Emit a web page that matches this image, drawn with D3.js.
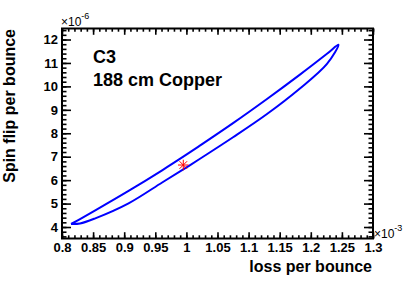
<!DOCTYPE html>
<html>
<head>
<meta charset="utf-8">
<script src="https://cdn.jsdelivr.net/npm/d3@7"></script>
<style>
  body { margin: 0; background: #fff; }
  svg  { display: block; }
  text { font-family: "Liberation Sans", Arial, Helvetica, sans-serif; }
</style>
</head>
<body>
<svg id="chart" width="415" height="282"></svg>
<script>
// Loop: x in 1e-3, y in 1e-6.
const upperX = [ 0.8145, 0.829, 0.8535, 0.907, 0.961, 0.995, 1.020, 1.075, 1.129, 1.182, 1.226, 1.2445 ];
const upperY = [ 4.13,   4.34,  4.71,   5.54,  6.42,  7.00,  7.44,  8.43,  9.45,  10.49, 11.39, 11.78  ];
const lowerX = [ 0.829, 0.8535, 0.907, 0.961, 0.995, 1.020, 1.075, 1.129, 1.182, 1.226 ];
const lowerY = [ 4.15,  4.37,   5.01,  5.90,  6.46,  6.88,  7.83,  8.81,  9.90,  10.96 ];

// The marked point.
const markX = [ 0.995 ];
const markY = [ 6.645 ];

// Axis ticks.
const xTicks      = [ 0.8, 0.85, 0.9, 0.95, 1, 1.05, 1.1, 1.15, 1.2, 1.25, 1.3 ];
const xTickLabels = [ '0.8', '0.85', '0.9', '0.95', '1', '1.05', '1.1', '1.15', '1.2', '1.25', '1.3' ];
const yTicks      = [ 4, 5, 6, 7, 8, 9, 10, 11, 12 ];
const yTickLabels = [ '4', '5', '6', '7', '8', '9', '10', '11', '12' ];

const svg = d3.select( '#chart' );
svg.append( 'rect' ).attr( 'width', 415 ).attr( 'height', 282 ).attr( 'fill', '#fff' );

const x = d3.scaleLinear( ).domain( [ 0.8, 1.3 ] ).range( [ 62, 373 ] );
const y = d3.scaleLinear( ).domain( [ 3.51, 12.47 ] ).range( [ 238.5, 28.5 ] );

const [ x0, x1 ] = x.range( );
const [ y0, y1 ] = y.range( );

// Draws one side of the frame: major ticks with labels, then the minor ones.
const drawAxis = ( maker, scale, pos, ticks, labels, major, minor, minorCount ) => {
  const g = svg.append( 'g' ).attr( 'transform', pos );
  g.call( maker( scale ).tickValues( ticks ).tickSize( -major ).tickPadding( 4 )
    .tickFormat( ( d, i ) => labels ? labels[i] : '' ) );
  g.select( '.domain' ).remove( );
  g.selectAll( '.tick line' ).attr( 'stroke', '#000' ).attr( 'stroke-width', 1.6 );
  g.selectAll( '.tick text' )
    .attr( 'fill', '#000' )
    .style( 'font-size', '13px' )
    .style( 'font-weight', 'bold' );
  const m = svg.append( 'g' ).attr( 'transform', pos );
  m.call( maker( scale ).ticks( minorCount ).tickSize( -minor ).tickFormat( '' ) );
  m.select( '.domain' ).remove( );
  m.selectAll( '.tick line' ).attr( 'stroke', '#000' ).attr( 'stroke-width', 1.6 );
};

drawAxis( d3.axisBottom, x, `translate(0,${y0})`, xTicks, xTickLabels, 6.3, 3.2, 50 );
drawAxis( d3.axisTop,    x, `translate(0,${y1})`, xTicks, null,        6.3, 3.2, 50 );
drawAxis( d3.axisLeft,   y, `translate(${x0},0)`, yTicks, yTickLabels, 9,   4.5, 45 );
drawAxis( d3.axisRight,  y, `translate(${x1},0)`, yTicks, null,        9,   4.5, 45 );

// Frame.
svg.append( 'rect' )
  .attr( 'x', x0 ).attr( 'y', y1 )
  .attr( 'width', x1 - x0 ).attr( 'height', y0 - y1 )
  .attr( 'fill', 'none' ).attr( 'stroke', '#000' ).attr( 'stroke-width', 2 );

// The loop: up along the upper branch, back along the lower one.
const loop = upperX.map( ( d, i ) => [ d, upperY[i] ] )
  .concat( lowerX.map( ( d, i ) => [ d, lowerY[i] ] ).reverse( ) )
  .concat( [ [ upperX[0], upperY[0] ] ] );

const line = d3.line( )
  .x( d => x( d[0] ) )
  .y( d => y( d[1] ) )
  .curve( d3.curveCatmullRom.alpha( 0.5 ) );

svg.append( 'path' )
  .attr( 'd', line( loop ) )
  .attr( 'fill', 'none' )
  .attr( 'stroke', '#0000ff' )
  .attr( 'stroke-width', 2 )
  .attr( 'stroke-linejoin', 'round' );

// Asterisk marker.
const mark = svg.append( 'g' )
  .attr( 'transform', `translate(${x( markX[0] )},${y( markY[0] )})` )
  .attr( 'stroke', '#ff0000' ).attr( 'stroke-width', 1 );
[ [ -5.3, 0, 5.3, 0 ], [ 0, -5.3, 0, 5.3 ], [ -3.8, -3.8, 3.8, 3.8 ], [ -3.8, 3.8, 3.8, -3.8 ] ]
  .forEach( s => mark.append( 'line' )
    .attr( 'x1', s[0] ).attr( 'y1', s[1] ).attr( 'x2', s[2] ).attr( 'y2', s[3] ) );

// Exponents.
const expo = ( px, py, power ) => {
  const t = svg.append( 'text' ).attr( 'x', px ).attr( 'y', py ).style( 'font-size', '12px' );
  t.append( 'tspan' ).text( '×10' );
  t.append( 'tspan' ).attr( 'dy', -7 ).style( 'font-size', '9px' ).text( power );
};
expo( 61, 26, '-6' );
expo( 374, 238, '-3' );

// Labels.
svg.append( 'text' )
  .attr( 'x', 93 ).attr( 'y', 63 )
  .style( 'font-size', '18px' ).style( 'font-weight', 'bold' )
  .text( 'C3' );
svg.append( 'text' )
  .attr( 'x', 93 ).attr( 'y', 86 )
  .style( 'font-size', '18px' ).style( 'font-weight', 'bold' )
  .text( '188 cm Copper' );

svg.append( 'text' )
  .attr( 'x', 372 ).attr( 'y', 272 )
  .attr( 'text-anchor', 'end' )
  .style( 'font-size', '16px' ).style( 'font-weight', 'bold' )
  .text( 'loss per bounce' );
svg.append( 'text' )
  .attr( 'transform', 'translate(15,29) rotate(-90)' )
  .attr( 'text-anchor', 'end' )
  .style( 'font-size', '16px' ).style( 'font-weight', 'bold' )
  .text( 'Spin flip per bounce' );
</script>
</body>
</html>
